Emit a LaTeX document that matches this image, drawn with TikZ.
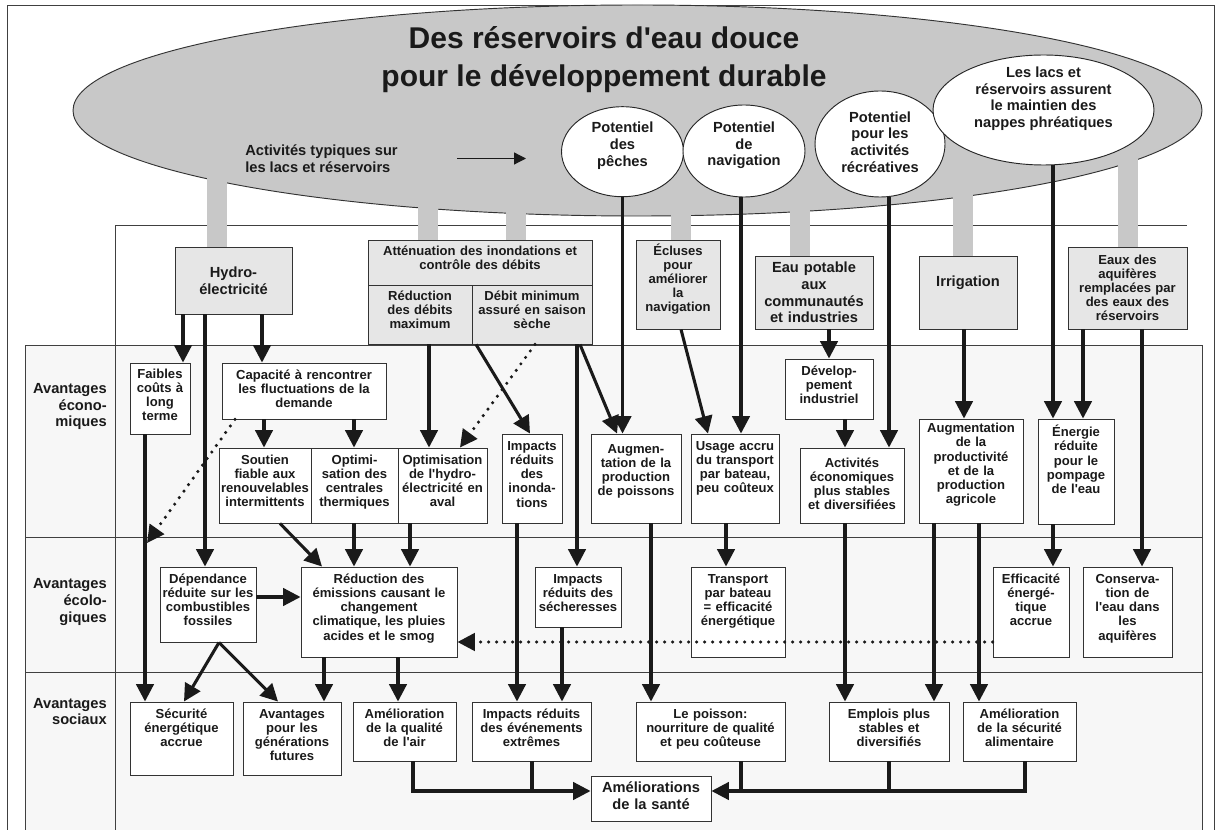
\documentclass[tikz,border=0pt]{standalone}
\usepackage{fontspec}
\setmainfont[Ligatures=TeXOff]{Liberation Sans}
\usetikzlibrary{arrows.meta,shapes.geometric}
\definecolor{resgrey}{HTML}{C8C8C8}
\definecolor{boxgrey}{HTML}{E6E6E6}
\definecolor{bandgrey}{HTML}{F7F7F7}
\definecolor{ink}{HTML}{1A1A1A}
\newcommand{\curfill}{white}
% top-aligned box: [text opts]{name}{x1}{y1}{x2}{y2}{text}
\newcommand{\bx}[7][]{%
  \pgfmathsetmacro{\cx}{(#3+#5)/2}%
  \pgfmathsetmacro{\cy}{(#4+#6)/2}%
  \pgfmathsetmacro{\ww}{(#5-#3)*0.75}%
  \pgfmathsetmacro{\hh}{(#6-#4)*0.75}%
  \pgfmathsetmacro{\tw}{(#5-#3)*0.75+12}%
  \node[box, minimum width=\ww pt, minimum height=\hh pt] (#2) at (\cx,\cy) {};%
  \node[txt, text width=\tw pt, anchor=north, yshift=-3pt, #1] (#2-t) at (#2.north) {\rule{0pt}{9.5pt}#7};%
}
% centred box
\newcommand{\bxc}[7][]{%
  \pgfmathsetmacro{\cx}{(#3+#5)/2}%
  \pgfmathsetmacro{\cy}{(#4+#6)/2}%
  \pgfmathsetmacro{\ww}{(#5-#3)*0.75}%
  \pgfmathsetmacro{\hh}{(#6-#4)*0.75}%
  \pgfmathsetmacro{\tw}{(#5-#3)*0.75+12}%
  \node[box, minimum width=\ww pt, minimum height=\hh pt] (#2) at (\cx,\cy) {};%
  \node[txt, text width=\tw pt, anchor=center, #1] (#2-t) at (#2.center) {#7};%
}
\begin{document}
\begin{tikzpicture}[x=0.75pt,y=-0.75pt,
  frame/.style={draw=black!75, line width=0.7pt},
  box/.style={draw=black!80, line width=0.7pt, fill=\curfill, inner sep=0pt, rectangle},
  txt/.style={font=\fontsize{9.8}{10.6}\selectfont\bfseries, align=center, inner sep=0pt, text=ink},
  big/.style={font=\fontsize{11}{12.4}\selectfont\bfseries},
  arr/.style={draw=ink, line width=2.3pt, -{Triangle[length=13pt,width=13pt]}},
  ln/.style={draw=ink, line width=2.3pt},
  dotarr/.style={draw=ink, line width=2.6pt, line cap=round, dash pattern=on 0pt off 6pt, -{Triangle[length=13pt,width=13pt]}},
  bar/.style={draw=resgrey, line width=15pt},
  wel/.style={ellipse, draw=black!85, line width=0.7pt, fill=white, inner sep=0pt},
  thinarr/.style={draw=ink, line width=0.9pt, -{Triangle[length=9pt,width=9pt]}}
]
\useasboundingbox (0,0) rectangle (1216,830);
\clip (0,0) rectangle (1216,830);
\fill[white] (0,0) rectangle (1216,830);

% frames and bands
\draw[frame] (7,5) rectangle (1214,850);
\draw[frame] (115,850) -- (115,225) -- (1187,225);
\draw[frame, fill=bandgrey] (25,345) rectangle (1202,850);
\draw[frame] (25,537) -- (1202,537);
\draw[frame] (25,672) -- (1202,672);
\draw[frame] (115,345) -- (115,850);

% reservoir ellipse
\node[ellipse, draw=black!80, line width=0.7pt, fill=resgrey, inner sep=0pt,
      minimum width=846.75pt, minimum height=158.25pt] (res) at (637.5,110.5) {};

% grey bars
\coordinate (b1) at (217,170);
\coordinate (b2) at (428,200);
\coordinate (b3) at (516,205);
\coordinate (b4) at (681,205);
\coordinate (b5) at (800,200);
\coordinate (b6) at (963,185);
\coordinate (b7) at (1128,150);
\draw[bar] (b1) -- (217,250);
\draw[bar] (b2) -- (428,243);
\draw[bar] (b3) -- (516,243);
\draw[bar] (b4) -- (681,243);
\draw[bar] (b5) -- (800,259);
\draw[bar] (b6) -- (963,259);
\draw[bar] (b7) -- (1128,250);

% title and label
\node[font=\fontsize{22.5}{28.5}\selectfont\bfseries, align=center, text=ink, inner sep=0pt] (tit) at (604,60)
  {Des réservoirs d'eau douce\\pour le développement durable};
\node[font=\fontsize{11}{12.75}\selectfont\bfseries, align=left, anchor=west, text=ink, inner sep=0pt] (act) at (245,158.5)
  {Activités typiques sur\\les lacs et réservoirs};
\draw[thinarr] (act.east -| 457,0) -- (act.east -| 526,0);

% white ellipses
\node[wel, minimum width=91.5pt, minimum height=67.5pt] (peches) at (622.5,151.7) {};
\node[txt, big, yshift=4.5pt] (peches-t) at (peches) {Potentiel\\des\\pêches};
\node[wel, minimum width=91.5pt, minimum height=69pt] (nav) at (744,151) {};
\node[txt, big, yshift=4pt] (nav-t) at (nav) {Potentiel\\de\\navigation};
\node[wel, minimum width=97.5pt, minimum height=79.5pt] (rec) at (880,144) {};
\node[txt, big, yshift=1.5pt] (rec-t) at (rec) {Potentiel\\pour les\\activités\\récréatives};
\node[wel, minimum width=165.75pt, minimum height=82.5pt] (nappes) at (1043.5,110) {};
\node[txt, big, yshift=8.5pt] (nappes-t) at (nappes) {Les lacs et\\réservoirs assurent\\le maintien des\\nappes phréatiques};

% grey activity boxes
\renewcommand{\curfill}{boxgrey}
\bxc[big]{hydro}{175}{247}{292}{314}{Hydro-\\électricité}
\bx[yshift=1pt]{att}{368}{240}{592}{285}{Atténuation des inondations et\\contrôle des débits}
\bx[yshift=1pt]{redmax}{368}{285}{472}{344}{Réduction\\des débits\\maximum}
\bx[yshift=1pt]{debmin}{472}{285}{592}{344}{Débit minimum\\assuré en saison\\sèche}
\bx[yshift=1pt]{ecl}{636}{240}{720}{329}{Écluses\\pour\\améliorer\\la\\navigation}
\bxc[big]{eaup}{755}{256}{873}{329}{Eau potable\\aux\\communautés\\et industries}
\bxc[big, yshift=7pt]{irr}{919}{256}{1017}{329}{Irrigation}
\bxc{aqu}{1068}{247}{1187}{329}{Eaux des\\aquifères\\remplacées par\\des eaux des\\réservoirs}
\renewcommand{\curfill}{white}

% economic
\bx[yshift=1pt]{faibles}{130}{363}{190}{434}{Faibles\\coûts à\\long\\terme}
\bx{capa}{222}{363}{386}{419}{Capacité à rencontrer\\les fluctuations de la\\demande}
\bx{sout}{219}{448}{311}{523}{Soutien\\fiable aux\\renouvelables\\intermittents}
\bx{optc}{311}{448}{398}{523}{Optimi-\\sation des\\centrales\\thermiques}
\bx{opth}{398}{448}{487}{523}{Optimisation\\de l'hydro-\\électricité en\\aval}
\bx{impi}{502}{434}{562}{523}{Impacts\\réduits\\des\\inonda-\\tions}
\bx[yshift=-2pt]{augp}{591}{434}{681}{523}{Augmen-\\tation de la\\production\\de poissons}
\bx{usage}{691}{434}{779}{523}{Usage accru\\du transport\\par bateau,\\peu coûteux}
\bx{dev}{785}{359}{873}{419}{Dévelop-\\pement\\industriel}
\bx[yshift=-2pt]{acte}{800}{448}{904}{523}{Activités\\économiques\\plus stables\\et diversifiées}
\bx[yshift=2pt]{augm}{919}{419}{1023}{523}{Augmentation\\de la\\productivité\\et de la\\production\\agricole}
\bx[yshift=-1pt]{ener}{1038}{419}{1114}{524}{Énergie\\réduite\\pour le\\pompage\\de l'eau}

% ecological
\bx{dep}{160}{567}{256}{642}{Dépendance\\réduite sur les\\combustibles\\fossiles}
\bx{redem}{301}{567}{457}{657}{Réduction des\\émissions causant le\\changement\\climatique, les pluies\\acides et le smog}
\bx{imps}{535}{567}{621}{627}{Impacts\\réduits des\\sécheresses}
\bx{trans}{691}{567}{785}{657}{Transport\\par bateau\\= efficacité\\énergétique}
\bx{effi}{993}{567}{1069}{657}{Efficacité\\énergé-\\tique\\accrue}
\bx{cons}{1083}{567}{1172}{657}{Conserva-\\tion de\\l'eau dans\\les\\aquifères}

% social
\bx{secu}{130}{702}{233}{775}{Sécurité\\énergétique\\accrue}
\bx{gen}{243}{702}{341}{775}{Avantages\\pour les\\générations\\futures}
\bx{air}{353}{702}{456}{761}{Amélioration\\de la qualité\\de l'air}
\bx{ext}{472}{702}{591}{761}{Impacts réduits\\des événements\\extrêmes}
\bx{poi}{636}{702}{785}{761}{Le poisson:\\nourriture de qualité\\et peu coûteuse}
\bx{emp}{829}{702}{949}{761}{Emplois plus\\stables et\\diversifiés}
\bx{ali}{963}{702}{1076}{761}{Amélioration\\de la sécurité\\alimentaire}
\bxc[big, yshift=2pt]{sante}{591}{776}{711}{821}{Améliorations\\de la santé}

% band labels
\node[txt, big, align=right, anchor=east] (lab-eco) at (107,406.5) {Avantages\\écono-\\miques};
\node[txt, big, align=right, anchor=east] (lab-ecol) at (107,602) {Avantages\\écolo-\\giques};
\node[txt, big, align=right, anchor=east] (lab-soc) at (107,711.5) {Avantages\\sociaux};

% connectors
\draw[arr] (hydro.south -| 183,0) -- (faibles.north -| 183,0);
\draw[arr] (hydro.south -| 205,0) -- (dep.north -| 205,0);
\draw[arr] (hydro.south -| 262,0) -- (capa.north -| 262,0);
\draw[arr] (faibles.south -| 145,0) -- (secu.north -| 145,0);
\coordinate (dtip) at (147,543);
\draw[dotarr] (capa.south -| 235,0) -- (dtip);
\draw[arr] (capa.south -| 264,0) -- (sout.north -| 264,0);
\draw[arr] (capa.south -| 354,0) -- (optc.north -| 354,0);
\draw[arr] (sout.south -| 280,0) -- (redem.north -| 322,0);
\draw[arr] (optc.south -| 354,0) -- (redem.north -| 354,0);
\draw[arr] (opth.south -| 410,0) -- (redem.north -| 410,0);
\draw[arr] (redem.south -| 324,0) -- (gen.north -| 324,0);
\draw[arr] (redem.south -| 398,0) -- (air.north -| 398,0);
\draw[arr] (dep.east |- 0,597) -- (redem.west |- 0,597);
\draw[arr] (dep.south -| 219,0) -- (secu.north -| 184,0);
\draw[arr] (dep.south -| 219,0) -- (gen.north -| 278,0);
\draw[arr] (redmax.south -| 429,0) -- (opth.north -| 429,0);
\draw[arr] (debmin.south -| 476,0) -- (impi.north -| 530,0);
\draw[dotarr] (debmin.south -| 535,0) -- (opth.north -| 460,0);
\draw[arr] (debmin.south -| 577,0) -- (imps.north -| 577,0);
\draw[arr] (debmin.south -| 580,0) -- (augp.north -| 617,0);
\draw[arr] (peches.south) -- (augp.north -| peches.south);
\draw[arr] (augp.south -| 651,0) -- (poi.north -| 651,0);
\draw[arr] (ecl.south -| 681,0) -- (usage.north -| 708,0);
\draw[arr] (nav.south -| 741,0) -- (usage.north -| 741,0);
\draw[arr] (usage.south -| 726,0) -- (trans.north -| 726,0);
\draw[arr] (impi.south -| 517,0) -- (ext.north -| 517,0);
\draw[arr] (imps.south -| 562,0) -- (ext.north -| 562,0);
\draw[arr] (eaup.south -| 829,0) -- (dev.north -| 829,0);
\draw[arr] (dev.south -| 845,0) -- (acte.north -| 845,0);
\draw[arr] (rec.south -| 889,0) -- (acte.north -| 889,0);
\draw[arr] (acte.south -| 845,0) -- (emp.north -| 845,0);
\draw[arr] (irr.south -| 964,0) -- (augm.north -| 964,0);
\draw[arr] (augm.south -| 934,0) -- (emp.north -| 934,0);
\draw[arr] (augm.south -| 979,0) -- (ali.north -| 979,0);
\draw[arr] (nappes.south -| 1053,0) -- (ener.north -| 1053,0);
\draw[arr] (aqu.south -| 1083,0) -- (ener.north -| 1083,0);
\draw[arr] (aqu.south -| 1142,0) -- (cons.north -| 1142,0);
\draw[arr] (ener.south -| 1053,0) -- (effi.north -| 1053,0);
\draw[dotarr] (effi.west |- 0,642) -- (redem.east |- 0,642);

% health
\coordinate (j1) at (532,791);
\coordinate (j2) at (741,791);
\coordinate (j3) at (889,791);
\draw[arr] (air.south -| 413,0) |- (sante.west |- j1);
\draw[ln] (ext.south -| 532,0) -- (j1);
\draw[arr] (ali.south -| 1025,0) |- (sante.east |- j1);
\draw[ln] (poi.south -| 741,0) -- (j2);
\draw[ln] (emp.south -| 889,0) -- (j3);
\end{tikzpicture}
\end{document}
